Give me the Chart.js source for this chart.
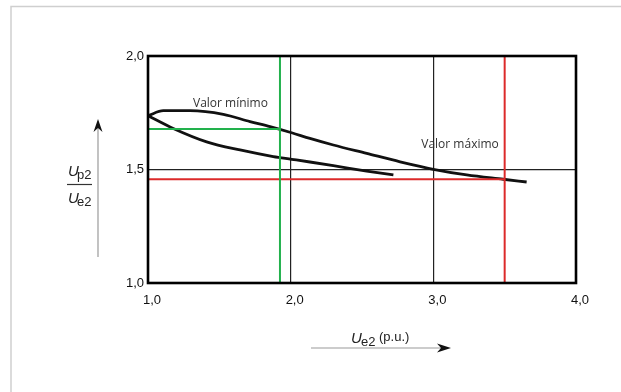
<!DOCTYPE html>
<html>
<head>
<meta charset="utf-8">
<script src="https://cdn.jsdelivr.net/npm/chart.js@4.4.1/dist/chart.umd.min.js"></script>
<style>
  html, body { margin: 0; padding: 0; background: #fff; }
  canvas { display: block; }
</style>
</head>
<body>
<canvas id="grafico" width="621" height="392"></canvas>
<script>
// Valores (Ue2 en p.u., Up2/Ue2)
const xTicks = [1, 2, 3, 4];
const yTicks = [1, 1.5, 2];
const xTickLabels = ["1,0", "2,0", "3,0", "4,0"];
const yTickLabels = ["1,0", "1,5", "2,0"];

const curvaSupX = [1.0, 1.107, 1.294, 1.528, 1.715, 1.855, 2.007, 2.135, 2.299, 2.533, 2.767, 3.0, 3.234, 3.49, 3.654];
const curvaSupY = [1.737, 1.759, 1.759, 1.743, 1.711, 1.689, 1.662, 1.637, 1.608, 1.571, 1.534, 1.501, 1.476, 1.457, 1.445];

const curvaInfX = [1.0, 1.177, 1.411, 1.645, 1.878, 2.007, 2.135, 2.299, 2.533, 2.72];
const curvaInfY = [1.737, 1.681, 1.622, 1.586, 1.557, 1.545, 1.533, 1.517, 1.493, 1.476];

// Valor minimo (verde) y valor maximo (rojo)
const minimoX = 1.925;
const minimoY = 1.678;
const maximoX = 3.5;
const maximoY = 1.457;

const notas = ["Valor mínimo", "Valor máximo"];
const notasX = [1.578, 3.187];
const notasY = [1.792, 1.608];

function puntos(xs, ys) {
    return xs.map((x, i) => ({ x: x, y: ys[i] }));
}

const verde = "#22b14c";
const rojo = "#dc2a2a";

// Marco, titulos y flechas
const decoracion = {
    id: "decoracion",
    beforeDraw(chart) {
        const c = chart.ctx;
        c.save();
        c.fillStyle = "#fff";
        c.fillRect(0, 0, chart.width, chart.height);
        c.strokeStyle = "#cfcfcf";
        c.lineWidth = 1.5;
        c.beginPath();
        c.moveTo(11, chart.height);
        c.lineTo(11, 6.5);
        c.lineTo(chart.width, 6.5);
        c.stroke();
        c.restore();
    },
    afterDraw(chart) {
        const c = chart.ctx;
        const a = chart.chartArea;
        const sx = chart.scales.x;
        const sy = chart.scales.y;
        c.save();
        c.strokeStyle = "#000";
        c.lineWidth = 2.6;
        c.strokeRect(a.left, a.top, a.right - a.left, a.bottom - a.top);

        c.fillStyle = "#333";
        c.font = "12px 'Open Sans'";
        c.textAlign = "center";
        c.textBaseline = "middle";
        notas.forEach((t, i) => {
            c.fillText(t, sx.getPixelForValue(notasX[i]), sy.getPixelForValue(notasY[i]));
        });

        // titulo eje y
        c.fillStyle = "#222";
        c.textAlign = "left";
        c.textBaseline = "alphabetic";
        const yl = a.left - 80;
        c.font = "italic 15px 'Liberation Sans'";
        c.fillText("U", yl, 176);
        c.fillText("U", yl, 203);
        c.font = "13px 'Liberation Sans'";
        c.fillText("p2", yl + 9, 179);
        c.fillText("e2", yl + 9, 206);
        c.strokeStyle = "#333";
        c.lineWidth = 1.2;
        c.beginPath();
        c.moveTo(yl - 1, 184.5);
        c.lineTo(yl + 24, 184.5);
        c.stroke();

        // flecha eje y
        c.strokeStyle = "#9a9a9a";
        c.lineWidth = 1.2;
        c.beginPath();
        c.moveTo(98, 257);
        c.lineTo(98, 126);
        c.stroke();
        c.fillStyle = "#111";
        c.beginPath();
        c.moveTo(98, 119);
        c.lineTo(93.5, 132);
        c.lineTo(98, 128);
        c.lineTo(102.5, 132);
        c.closePath();
        c.fill();

        // titulo eje x
        c.fillStyle = "#222";
        c.font = "italic 15px 'Liberation Sans'";
        c.fillText("U", 351, 343);
        c.font = "13px 'Liberation Sans'";
        c.fillText("e2", 361, 346);
        c.font = "13px 'Liberation Sans'";
        c.fillText("(p.u.)", 379, 341);

        // flecha eje x
        c.strokeStyle = "#9a9a9a";
        c.beginPath();
        c.moveTo(311, 348);
        c.lineTo(443, 348);
        c.stroke();
        c.fillStyle = "#111";
        c.beginPath();
        c.moveTo(451, 348);
        c.lineTo(437, 343.5);
        c.lineTo(441, 348);
        c.lineTo(437, 352.5);
        c.closePath();
        c.fill();
        c.restore();
    }
};

const ctx = document.getElementById("grafico");
new Chart(ctx, {
    type: "scatter",
    data: {
        datasets: [
            { data: puntos([1, minimoX], [minimoY, minimoY]), borderColor: verde, borderWidth: 2 },
            { data: puntos([minimoX, minimoX], [1, 2]), borderColor: verde, borderWidth: 2 },
            { data: puntos([1, maximoX], [maximoY, maximoY]), borderColor: rojo, borderWidth: 2 },
            { data: puntos([maximoX, maximoX], [1, 2]), borderColor: rojo, borderWidth: 2 },
            { data: puntos(curvaSupX, curvaSupY), borderColor: "#111", borderWidth: 2.8, cubicInterpolationMode: "monotone" },
            { data: puntos(curvaInfX, curvaInfY), borderColor: "#111", borderWidth: 2.8, cubicInterpolationMode: "monotone" },
        ].map(d => Object.assign({ showLine: true, pointRadius: 0, fill: false }, d)),
    },
    options: {
        responsive: false,
        animation: false,
        events: [],
        layout: { padding: { top: 56, right: 45, left: 0, bottom: 0 } },
        plugins: {
            legend: { display: false },
            tooltip: { enabled: false },
        },
        scales: {
            x: {
                type: "linear",
                min: 1,
                max: 4,
                afterBuildTicks: s => { s.ticks = xTicks.map(v => ({ value: v })); },
                afterFit: s => { s.height = 109; },
                ticks: {
                    callback: (v) => xTickLabels[xTicks.indexOf(v)],
                    font: { family: "'Liberation Sans'", size: 13 },
                    color: "#111",
                    padding: 10,
                    labelOffset: 4,
                    maxRotation: 0,
                },
                grid: { color: "#222", lineWidth: 1.2, drawTicks: false },
                border: { display: false },
            },
            y: {
                type: "linear",
                min: 1,
                max: 2,
                afterBuildTicks: s => { s.ticks = yTicks.map(v => ({ value: v })); },
                afterFit: s => { s.width = 148; },
                ticks: {
                    callback: (v) => yTickLabels[yTicks.indexOf(v)],
                    font: { family: "'Liberation Sans'", size: 13 },
                    color: "#111",
                    padding: 4,
                },
                grid: { color: "#222", lineWidth: 1.2, drawTicks: false },
                border: { display: false },
            },
        },
    },
    plugins: [decoracion],
});
</script>
</body>
</html>
